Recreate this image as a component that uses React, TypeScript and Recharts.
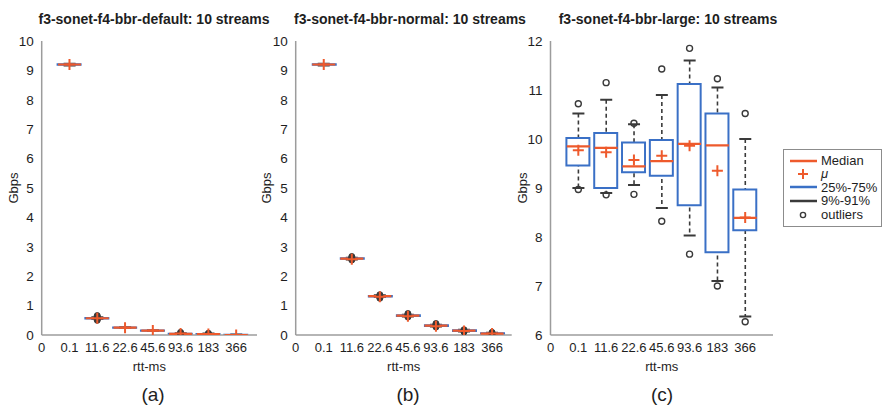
import {
  Bar,
  ComposedChart,
  Legend,
  Scatter,
  XAxis,
  YAxis,
} from "recharts";

const FONT = "'Liberation Sans', Arial, Helvetica, sans-serif";
const RED = "#ee5a2c";
const BLUE = "#3a70c6";
const DARK = "#3a3a3a";
const AXIS = "#9c9c9c";
const TEXT = "#1e1e1e";

// x tick labels, position 0 is the axis origin
const RTT_LABELS = ["0", "0.1", "11.6", "22.6", "45.6", "93.6", "183", "366"];

// (a) bbr-default
const defMedian = [9.2, 0.57, 0.25, 0.15, 0.04, 0.03, 0.0];
const defMean = [9.2, 0.57, 0.25, 0.15, 0.05, 0.03, 0.0];
const defQ1 = [9.19, 0.56, 0.245, 0.145, 0.035, 0.025, 0.0];
const defQ3 = [9.21, 0.58, 0.255, 0.155, 0.045, 0.035, 0.01];
const defLow = [9.17, 0.54, 0.24, 0.14, 0.02, 0.01, 0.0];
const defHigh = [9.23, 0.6, 0.26, 0.16, 0.06, 0.05, 0.02];
const defOutliers = [
  [2, 0.5], [2, 0.54], [2, 0.58], [2, 0.62], [2, 0.66],
  [5, 0.0], [5, 0.03], [5, 0.06], [5, 0.09],
  [6, 0.0], [6, 0.03], [6, 0.06],
];

// (b) bbr-normal
const normMedian = [9.2, 2.6, 1.32, 0.66, 0.32, 0.15, 0.05];
const normMean = [9.2, 2.58, 1.3, 0.64, 0.3, 0.14, 0.05];
const normQ1 = [9.19, 2.59, 1.31, 0.65, 0.31, 0.14, 0.04];
const normQ3 = [9.21, 2.61, 1.33, 0.67, 0.33, 0.16, 0.06];
const normLow = [9.17, 2.57, 1.29, 0.63, 0.29, 0.12, 0.02];
const normHigh = [9.23, 2.63, 1.35, 0.69, 0.35, 0.18, 0.08];
const normOutliers = [
  [2, 2.55], [2, 2.59], [2, 2.63], [2, 2.67],
  [3, 1.25], [3, 1.29], [3, 1.33], [3, 1.37],
  [4, 0.61], [4, 0.65], [4, 0.69], [4, 0.73],
  [5, 0.27], [5, 0.31], [5, 0.35], [5, 0.39],
  [6, 0.1], [6, 0.14], [6, 0.18],
  [7, 0.01], [7, 0.05], [7, 0.09],
];

// (c) bbr-large
const largeMedian = [9.85, 9.82, 9.44, 9.55, 9.9, 9.87, 8.39];
const largeMean = [9.77, 9.73, 9.57, 9.66, 9.86, 9.35, 8.4];
const largeQ1 = [9.46, 9.0, 9.32, 9.25, 8.65, 7.69, 8.14];
const largeQ3 = [10.02, 10.12, 9.93, 9.98, 11.12, 10.52, 8.97];
const largeLow = [9.0, 8.9, 9.06, 8.59, 8.03, 7.1, 6.38];
const largeHigh = [10.52, 10.8, 10.3, 10.9, 11.6, 11.05, 10.0];
const largeOutliersHigh = [10.72, 11.15, 10.32, 11.43, 11.85, 11.23, 10.52];
const largeOutliersLow = [8.97, 8.86, 8.87, 8.32, 7.65, 7.0, 6.27];
const largeOutliers = [
  ...largeOutliersHigh.map((v, i) => [i + 1, v]),
  ...largeOutliersLow.map((v, i) => [i + 1, v]),
];

const LEGEND_LABELS = ["Median", "μ", "25%-75%", "9%-91%", "outliers"];

function buildRows(med: number[], mean: number[], q1: number[], q3: number[], lo: number[], hi: number[]) {
  return med.map((m, i) => ({
    x: i + 1,
    median: m,
    mean: mean[i],
    box: [q1[i], q3[i]],
    whisker: [lo[i], hi[i]],
  }));
}

function WhiskerShape(props: any) {
  const { x, y, width, height } = props;
  const top = Math.min(y, y + height);
  const bottom = Math.max(y, y + height);
  const cx = x + width / 2;
  return (
    <g>
      <line x1={cx} x2={cx} y1={top} y2={bottom} stroke={DARK} strokeWidth={1.6} strokeDasharray="4 3" />
      <line x1={x} x2={x + width} y1={top} y2={top} stroke={DARK} strokeWidth={2} />
      <line x1={x} x2={x + width} y1={bottom} y2={bottom} stroke={DARK} strokeWidth={2} />
    </g>
  );
}

const MedianShape = (p: any) => (
  <line x1={p.cx - 11.5} x2={p.cx + 11.5} y1={p.cy} y2={p.cy} stroke={RED} strokeWidth={2.2} />
);

const MeanShape = (p: any) => (
  <g stroke={RED} strokeWidth={2}>
    <line x1={p.cx - 5.5} x2={p.cx + 5.5} y1={p.cy} y2={p.cy} />
    <line x1={p.cx} x2={p.cx} y1={p.cy - 5.5} y2={p.cy + 5.5} />
  </g>
);

const OutlierRing = (p: any) => (
  <circle cx={p.cx} cy={p.cy} r={3} fill="none" stroke={DARK} strokeWidth={1.4} />
);

const OutlierBlob = (p: any) => (
  <circle cx={p.cx} cy={p.cy} r={3} fill={DARK} stroke={DARK} strokeWidth={1} />
);

function LegendBox() {
  const swatch = (i: number) => {
    if (i === 0) return <line x1={1} x2={28} y1={6} y2={6} stroke={RED} strokeWidth={2.5} />;
    if (i === 1)
      return (
        <g stroke={RED} strokeWidth={2}>
          <line x1={9} x2={19} y1={6} y2={6} />
          <line x1={14} x2={14} y1={1} y2={11} />
        </g>
      );
    if (i === 2) return <line x1={1} x2={28} y1={6} y2={6} stroke={BLUE} strokeWidth={2.5} />;
    if (i === 3) return <line x1={1} x2={28} y1={6} y2={6} stroke={DARK} strokeWidth={2.5} />;
    return <circle cx={14} cy={7} r={2.6} fill="none" stroke={DARK} strokeWidth={1.4} />;
  };
  return (
    <div
      style={{
        border: "1px solid #8c8c8c",
        background: "#fff",
        padding: "4px 4px 5px 5px",
        fontFamily: FONT,
        fontSize: 13,
        lineHeight: "13.4px",
        color: TEXT,
        width: 99,
        boxSizing: "border-box",
      }}
    >
      {LEGEND_LABELS.map((label, i) => (
        <div key={label} style={{ display: "flex", alignItems: "center", height: 13.4 }}>
          <svg width={29} height={12} style={{ flexShrink: 0 }}>
            {swatch(i)}
          </svg>
          <span style={{ marginLeft: 3, fontStyle: i === 1 ? "italic" : "normal" }}>{label}</span>
        </div>
      ))}
    </div>
  );
}

type PanelProps = {
  left: number;
  width: number;
  margin: { top: number; right: number; bottom: number; left: number };
  xMax: number;
  yDomain: [number, number];
  yTicks: number[];
  rows: any[];
  outliers: number[][];
  outlierShape: (p: any) => any;
  labelOffset: number;
  withLegend?: boolean;
};

function Panel({ left, width, margin, xMax, yDomain, yTicks, rows, outliers, outlierShape, labelOffset, withLegend }: PanelProps) {
  const outlierData = outliers.map(([x, y]) => ({ x, y }));
  const tickStyle = { fontSize: 13, fill: TEXT, fontFamily: FONT };
  return (
    <div style={{ position: "absolute", left, top: 0 }}>
      <ComposedChart width={width} height={406} data={rows} margin={margin}>
        <XAxis
          type="number"
          dataKey="x"
          domain={[0, xMax]}
          ticks={[0, 1, 2, 3, 4, 5, 6, 7]}
          tickFormatter={(v: number) => RTT_LABELS[v]}
          interval={0}
          allowDataOverflow
          stroke={AXIS}
          strokeWidth={1.5}
          tickLine={false}
          tickSize={0}
          tickMargin={8}
          tick={tickStyle}
          height={40}
          label={{ value: "rtt-ms", position: "insideBottom", offset: 4, style: { fontSize: 13, fill: TEXT, fontFamily: FONT } }}
        />
        <XAxis xAxisId="w" type="number" dataKey="x" domain={[0, xMax]} allowDataOverflow hide />
        <XAxis xAxisId="b" type="number" dataKey="x" domain={[0, xMax]} allowDataOverflow hide />
        <YAxis
          type="number"
          domain={yDomain}
          ticks={yTicks}
          interval={0}
          allowDataOverflow
          stroke={AXIS}
          strokeWidth={1.5}
          tickLine={false}
          tickSize={0}
          tickMargin={8}
          tick={{ ...tickStyle, fontSize: 13.5 }}
          width={30}
          label={{
            value: "Gbps",
            angle: -90,
            position: "insideLeft",
            offset: labelOffset,
            style: { textAnchor: "middle", fontSize: 13, fill: TEXT, fontFamily: FONT },
          }}
        />
        <Bar xAxisId="w" dataKey="whisker" barSize={12} shape={WhiskerShape} isAnimationActive={false} />
        <Bar xAxisId="b" dataKey="box" barSize={23} fill="#fff" stroke={BLUE} strokeWidth={2} isAnimationActive={false} />
        <Scatter dataKey="median" shape={MedianShape} isAnimationActive={false} />
        <Scatter data={outlierData} dataKey="y" shape={outlierShape} isAnimationActive={false} />
        <Scatter dataKey="mean" shape={MeanShape} isAnimationActive={false} />
        {withLegend && (
          <Legend
            layout="horizontal"
            align="center"
            verticalAlign="middle"
            content={() => <LegendBox />}
            wrapperStyle={{ left: 283, top: 149, width: 99, height: 78 }}
          />
        )}
      </ComposedChart>
    </div>
  );
}

const TITLES = [
  { text: "f3-sonet-f4-bbr-default: 10 streams", cx: 154, tag: "(a)", tx: 153 },
  { text: "f3-sonet-f4-bbr-normal: 10 streams", cx: 410, tag: "(b)", tx: 408 },
  { text: "f3-sonet-f4-bbr-large: 10 streams", cx: 668, tag: "(c)", tx: 662 },
];

export default function App() {
  return (
    <div style={{ position: "absolute", left: 0, top: 0, width: 888, height: 406, background: "#fff", overflow: "hidden" }}>
      <Panel
        left={0}
        width={290}
        margin={{ top: 41, right: 33, bottom: 31, left: 11.7 }}
        xMax={7.75}
        yDomain={[0, 10]}
        yTicks={[0, 1, 2, 3, 4, 5, 6, 7, 8, 9, 10]}
        rows={buildRows(defMedian, defMean, defQ1, defQ3, defLow, defHigh)}
        outliers={defOutliers}
        outlierShape={OutlierBlob}
        labelOffset={1.3}
      />
      <Panel
        left={250}
        width={290}
        margin={{ top: 41, right: 28.3, bottom: 31, left: 15.7 }}
        xMax={7.7}
        yDomain={[0, 10]}
        yTicks={[0, 1, 2, 3, 4, 5, 6, 7, 8, 9, 10]}
        rows={buildRows(normMedian, normMean, normQ1, normQ3, normLow, normHigh)}
        outliers={normOutliers}
        outlierShape={OutlierBlob}
        labelOffset={1}
      />
      <Panel
        left={500}
        width={388}
        margin={{ top: 41, right: 115, bottom: 31, left: 20.5 }}
        xMax={8}
        yDomain={[6, 12]}
        yTicks={[6, 7, 8, 9, 10, 11, 12]}
        rows={buildRows(largeMedian, largeMean, largeQ1, largeQ3, largeLow, largeHigh)}
        outliers={largeOutliers}
        outlierShape={OutlierRing}
        labelOffset={1.5}
        withLegend
      />
      {TITLES.map((t) => (
        <div key={t.text}>
          <div
            style={{
              position: "absolute",
              left: t.cx - 150,
              width: 300,
              top: 10,
              textAlign: "center",
              fontFamily: FONT,
              fontWeight: "bold",
              fontSize: 14,
              lineHeight: "18px",
              color: TEXT,
            }}
          >
            {t.text}
          </div>
          <div
            style={{
              position: "absolute",
              left: t.tx - 30,
              width: 60,
              top: 384,
              textAlign: "center",
              fontFamily: FONT,
              fontSize: 19,
              lineHeight: "22px",
              color: TEXT,
            }}
          >
            {t.tag}
          </div>
        </div>
      ))}
    </div>
  );
}
